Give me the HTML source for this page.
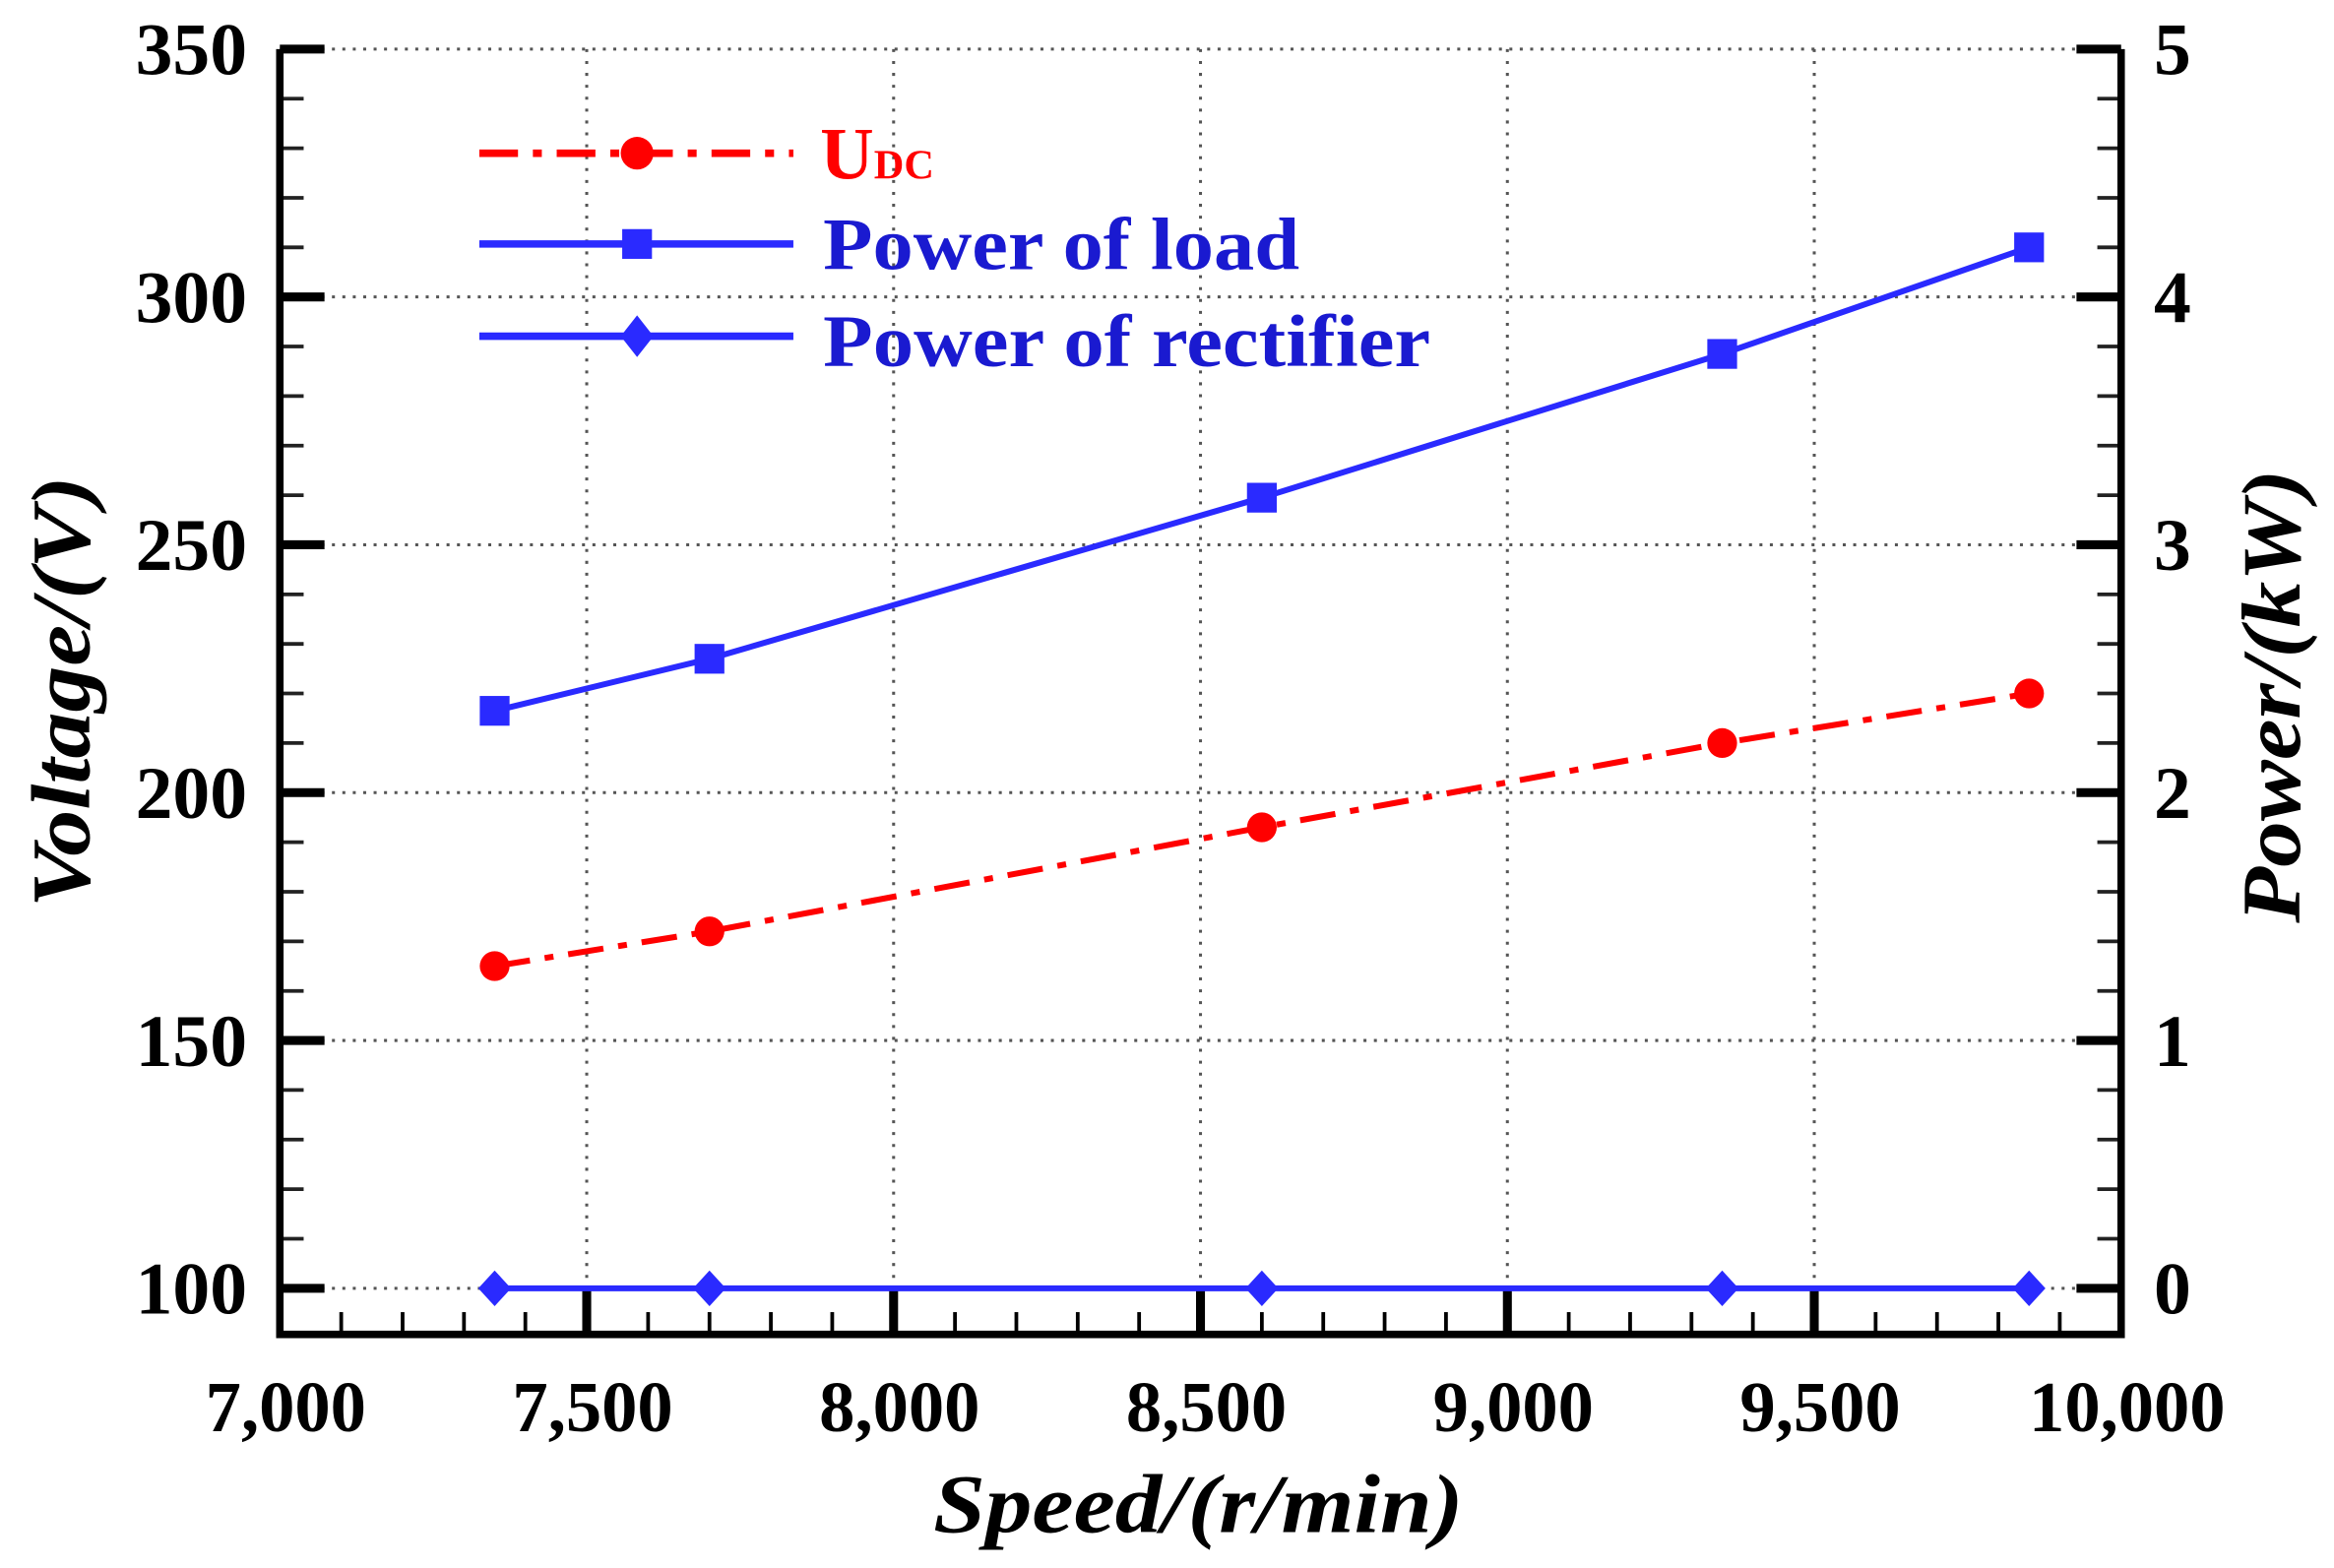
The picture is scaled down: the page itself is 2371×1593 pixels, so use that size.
<!DOCTYPE html>
<html><head><meta charset="utf-8"><style>
html,body{margin:0;padding:0;background:#fff;}
svg{display:block;}
text{font-family:"Liberation Serif",serif;font-weight:bold;}
</style></head><body>
<svg id="chart" width="2371" height="1593" viewBox="0 0 1568 1054" preserveAspectRatio="none" xmlns="http://www.w3.org/2000/svg">
<g id="grid"></g>
<g id="axes"></g>
<g id="series"></g>
<g id="legend">
  <line x1="322" y1="103" x2="533" y2="103" stroke="#ff0000" stroke-width="5" stroke-dasharray="26,10,6,10"/>
  <circle cx="428" cy="103" r="11" fill="#ff0000"/>
  <text x="551" y="120" fill="#ff0000" font-size="50">U<tspan font-size="28">DC</tspan></text>
  <line x1="322" y1="164" x2="533" y2="164" stroke="#2a2aff" stroke-width="5"/>
  <rect x="418" y="154" width="20" height="20" fill="#2a2aff"/>
  <text x="553" y="181" fill="#1a1ad0" font-size="50" textLength="320" lengthAdjust="spacingAndGlyphs">Power of load</text>
  <line x1="322" y1="226" x2="533" y2="226" stroke="#2a2aff" stroke-width="5"/>
  <polygon points="428,212 439,226 428,240 417,226" fill="#2a2aff"/>
  <text x="553" y="246" fill="#1a1ad0" font-size="50" textLength="408" lengthAdjust="spacingAndGlyphs">Power of rectifier</text>
</g>
<text x="805" y="1030" text-anchor="middle" font-size="56" font-style="italic" textLength="356" lengthAdjust="spacingAndGlyphs">Speed/(r/min)</text>
<text transform="translate(60,465) rotate(-90)" text-anchor="middle" font-size="56" font-style="italic" textLength="290" lengthAdjust="spacingAndGlyphs">Voltage/(V)</text>
<text transform="translate(1545,468) rotate(-90)" text-anchor="middle" font-size="56" font-style="italic" textLength="305" lengthAdjust="spacingAndGlyphs">Power/(kW)</text>
<script>
const speeds=[7350,7700,8600,9350,9850];
const udcValues=[165,172,193,210,220];
const loadPower=[2.33,2.54,3.19,3.77,4.2];
const rectifierPower=[0,0,0,0,0];
const xTicks=[7000,7500,8000,8500,9000,9500,10000];
const xTickLabels=["7,000","7,500","8,000","8,500","9,000","9,500","10,000"];
const yTicks=[100,150,200,250,300,350];
const y2Ticks=[0,1,2,3,4,5];

const NS="http://www.w3.org/2000/svg";
const L=188,R=1425,T=33,B=897;
function sx(v){return 188+(v-7000)*(1425-188)/3000;}
function sy(v){return 866-(v-100)*(866-33)/250;}
function sy2(v){return 866-v*(866-33)/5;}
function mk(tag,attrs,parent){const e=document.createElementNS(NS,tag);for(const k in attrs)e.setAttribute(k,attrs[k]);parent.appendChild(e);return e;}
const grid=document.getElementById('grid'),axes=document.getElementById('axes'),ser=document.getElementById('series');

xTicks.forEach((t,i)=>{
  const x=sx(t);
  if(t>7000&&t<10000){
    const g=mk('line',{x1:x,y1:T,x2:x,y2:B,stroke:'#555','stroke-width':2,'stroke-dasharray':'2,6'},grid);
    
    
    const tk=mk('line',{x1:x,y1:B,x2:x,y2:B-30,stroke:'#000','stroke-width':6},axes);
    
    
  }
  const lb=mk('text',{x:x+4,y:962,'text-anchor':'middle','font-size':48},axes);
  lb.textContent=xTickLabels[i];
  
  
});
for(let v=7100;v<10000;v+=100){
  if(v%500===0)continue;
  const x=sx(v);
  const m=mk('line',{x1:x,y1:B,x2:x,y2:B-15,stroke:'#000','stroke-width':2.5},axes);
  
  
}
yTicks.forEach((t,i)=>{
  const y=sy(t);
  const g=mk('line',{x1:L,y1:y,x2:R,y2:y,stroke:'#555','stroke-width':2,'stroke-dasharray':'2,5'},grid);
  
  
  const tk=mk('line',{x1:L,y1:y,x2:L+30,y2:y,stroke:'#000','stroke-width':6},axes);
  
  
  const lb=mk('text',{x:166,y:y+17,'text-anchor':'end','font-size':50},axes);
  lb.textContent=t;
  
  
});
y2Ticks.forEach(t=>{
  const y=sy2(t);
  const tk=mk('line',{x1:R,y1:y,x2:R-30,y2:y,stroke:'#000','stroke-width':6},axes);
  
  
  const lb=mk('text',{x:1447,y:y+17,'text-anchor':'start','font-size':50},axes);
  lb.textContent=t;
  
  
});
for(let v=100;v<=350;v+=10){
  if(v%50===0)continue;
  const y=sy(v);
  const a=mk('line',{x1:L,y1:y,x2:L+16,y2:y,stroke:'#222','stroke-width':2.5},axes);
  
  
  const b=mk('line',{x1:R,y1:y,x2:R-16,y2:y,stroke:'#222','stroke-width':2.5},axes);
  
  
}
const ax=mk('polyline',{points:`${L},${T} ${L},${B} ${R},${B} ${R},${T}`,fill:'none',stroke:'#000','stroke-width':5},axes);



function drawLine(ys,color,dash,name){
  const pts=speeds.map((s,i)=>`${sx(s)},${ys[i]}`).join(' ');
  const a={points:pts,fill:'none',stroke:color,'stroke-width':4};
  if(dash)a['stroke-dasharray']=dash;
  const p=mk('polyline',a,ser);
  
  
}
const udcY=udcValues.map(sy),loadY=loadPower.map(sy2),recY=rectifierPower.map(sy2);
drawLine(udcY,'#ff0000','24,10,6,10','udc');
drawLine(loadY,'#2a2aff',null,'load-power');
drawLine(recY,'#2a2aff',null,'rectifier-power');
speeds.forEach((s,i)=>{
  const x=sx(s);
  const c=mk('circle',{cx:x,cy:udcY[i],r:10,fill:'#ff0000'},ser);
  
  
  const q=mk('rect',{x:x-10,y:loadY[i]-10,width:20,height:20,fill:'#2a2aff'},ser);
  
  
  const y=recY[i];
  const d=mk('polygon',{points:`${x},${y-12} ${x+11},${y} ${x},${y+12} ${x-11},${y}`,fill:'#2a2aff'},ser);
  
  
});
</script>
</svg>
</body></html>
